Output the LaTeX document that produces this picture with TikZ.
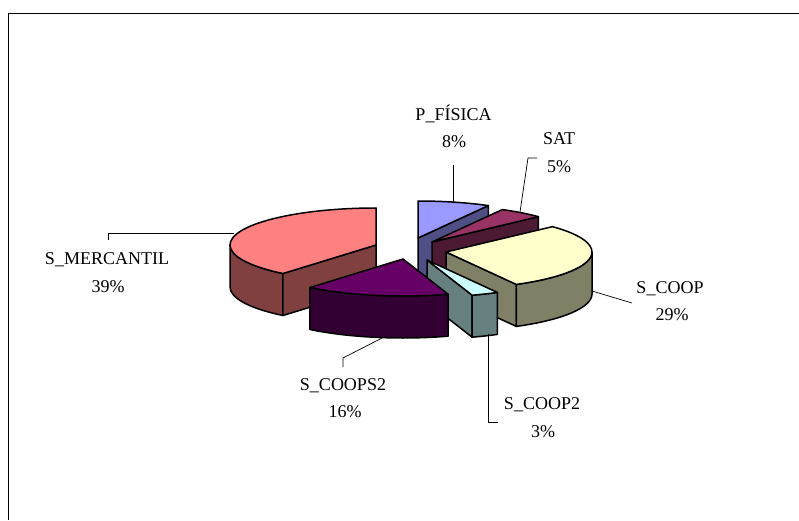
\documentclass[tikz,border=0pt]{standalone}
\usepackage{fontspec}
\setmainfont{Liberation Serif}
\definecolor{pfTop}{HTML}{9999FF}
\definecolor{pfSide}{HTML}{4F4F85}
\definecolor{satTop}{HTML}{993366}
\definecolor{satSide}{HTML}{4D1A33}
\definecolor{coopTop}{HTML}{FFFFCC}
\definecolor{coopSide}{HTML}{808066}
\definecolor{coopbTop}{HTML}{CCFFFF}
\definecolor{coopbSide}{HTML}{668080}
\definecolor{coopsTop}{HTML}{660066}
\definecolor{coopsSide}{HTML}{330033}
\definecolor{mercTop}{HTML}{FF8080}
\definecolor{mercSide}{HTML}{804040}
\newcommand\pietop[3]{\filldraw[piece,fill=#3] (0,0) -- (#1:146pt and 37pt) arc[start angle=#1, end angle=#2, x radius=146pt, y radius=37pt] -- cycle;}
\newcommand\pieside[2]{\filldraw[piece,fill=#2] (0,0) -- (#1:146pt and 37pt) -- ++(0,-42pt) -- (0,-42pt) -- cycle;}
\newcommand\pieband[3]{\filldraw[piece,fill=#3] (#1:146pt and 37pt) arc[start angle=#1, end angle=#2, x radius=146pt, y radius=37pt] -- ++(0,-42pt) arc[start angle=#2, end angle=#1, x radius=146pt, y radius=37pt] -- cycle;}
\begin{document}
\begin{tikzpicture}[x=1pt,y=1pt,
  piece/.style={draw=black,line width=1.5pt,line join=round},
  leader/.style={draw=black,line width=0.7pt},
  lbl/.style={anchor=base,inner sep=0pt,font=\fontsize{18}{20}\selectfont}]
\useasboundingbox (0,0) rectangle (799,520);
\fill[white] (0,0) rectangle (799,520);
\draw[line width=1.3pt] (799,506.5) -- (8.5,506.5) -- (8.5,0);
% P_FISICA
\begin{scope}[shift={(418,282)}]
  \pieside{61.2}{pfSide}
  \pietop{61.2}{90}{pfTop}
\end{scope}
% SAT
\begin{scope}[shift={(432,278)}]
  \pieside{43.2}{satSide}
  \pietop{43.2}{61.2}{satTop}
\end{scope}
% S_MERCANTIL
\begin{scope}[shift={(376,275)}]
  \pieband{180}{230.4}{mercSide}
  \pieside{230.4}{mercSide}
  \pietop{90}{230.4}{mercTop}
\end{scope}
% S_COOP
\begin{scope}[shift={(446,268)}]
  \pieside{-61.2}{coopSide}
  \pieband{-61.2}{0}{coopSide}
  \pietop{-61.2}{43.2}{coopTop}
\end{scope}
% S_COOP2
\begin{scope}[shift={(427,260)}]
  \pieside{-72}{coopbSide}
  \pieband{-72}{-61.2}{coopbSide}
  \pietop{-72}{-61.2}{coopbTop}
\end{scope}
% S_COOPS2
\begin{scope}[shift={(403,261)}]
  \pieband{-129.6}{-72}{coopsSide}
  \pietop{-129.6}{-72}{coopsTop}
\end{scope}
% labels
\node[lbl] (pfn) at (453.5,399) {P\_FÍSICA};
\node[lbl] (pfp) at (454,372) {8\%};
\node[lbl] (satn) at (559,375) {SAT};
\node[lbl] (satp) at (559,347) {5\%};
\node[lbl] (coopn) at (670,227) {S\_COOP};
\node[lbl] (coopp) at (672,200) {29\%};
\node[lbl] (coopbn) at (542,111) {S\_COOP2};
\node[lbl] (coopbp) at (543,83) {3\%};
\node[lbl] (coopsn) at (343,130) {S\_COOPS2};
\node[lbl] (coopsp) at (345,103) {16\%};
\node[lbl] (mercn) at (107,256) {S\_MERCANTIL};
\node[lbl] (mercp) at (108,228) {39\%};
% leader anchors
\coordinate (pfA) at (453,318);
\coordinate (pfB) at (453,355);
\coordinate (satA) at (520,308);
\coordinate (satK) at (528,362);
\coordinate (satB) at (537,362);
\coordinate (coopA) at (592,229);
\coordinate (coopB) at (632,217);
\coordinate (coopbA) at (488,186);
\coordinate (coopbK) at (488,98);
\coordinate (coopbB) at (498,98);
\coordinate (coopsA) at (382,182);
\coordinate (coopsK) at (343,162);
\coordinate (coopsB) at (343,153);
\coordinate (mercA) at (234,287);
\coordinate (mercK) at (108,287);
\coordinate (mercB) at (108,280);
\draw[leader] (pfA) -- (pfB);
\draw[leader] (satA) -- (satK) -- (satB);
\draw[leader] (coopA) -- (coopB);
\draw[leader] (coopbA) -- (coopbK) -- (coopbB);
\draw[leader] (coopsA) -- (coopsK) -- (coopsB);
\draw[leader] (mercA) -- (mercK) -- (mercB);
\end{tikzpicture}
\end{document}
